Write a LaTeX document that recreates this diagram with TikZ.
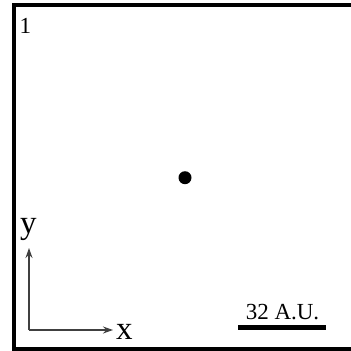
\documentclass[tikz,border=0pt]{standalone}
\usepackage{fontspec}
\setmainfont{Liberation Serif}
\usetikzlibrary{arrows.meta}

\begin{document}
\begin{tikzpicture}[x=1pt,y=-1pt,label/.style={inner sep=0pt},small/.style={font=\fontsize{23}{23}\selectfont},big/.style={font=\fontsize{33}{33}\selectfont},axis/.style={-{Stealth[length=10pt,width=7pt]},line width=1.2pt,draw=black!75}]
\useasboundingbox (0,0) rectangle (351,351);
\fill[white] (0,0) rectangle (351,351);
\draw[line width=4pt] (14,5.3) rectangle (356,348.5);
\node[label,small,anchor=base west] (frame) at (19.5,33.3){1};
\fill (185,177.7) circle (6.5pt);
\coordinate (origin) at (29,330);
\coordinate (ytip) at (29,248);
\coordinate (xtip) at (113,330);
\draw[axis] (origin) -- (ytip);\draw[axis] (origin) -- (xtip);
\node[label,big,anchor=base west] (ylab) at (20,233){y};
\node[label,big,anchor=base west] (xlab) at (116,339){x};
\coordinate (barL) at (238,327.5);
\coordinate (barR) at (326,327.5);
\draw[line width=5pt] (barL) -- (barR);
\node[label,small,anchor=base] (scale) at (282.5,319){32 A.U.};
\end{tikzpicture}
\end{document}
